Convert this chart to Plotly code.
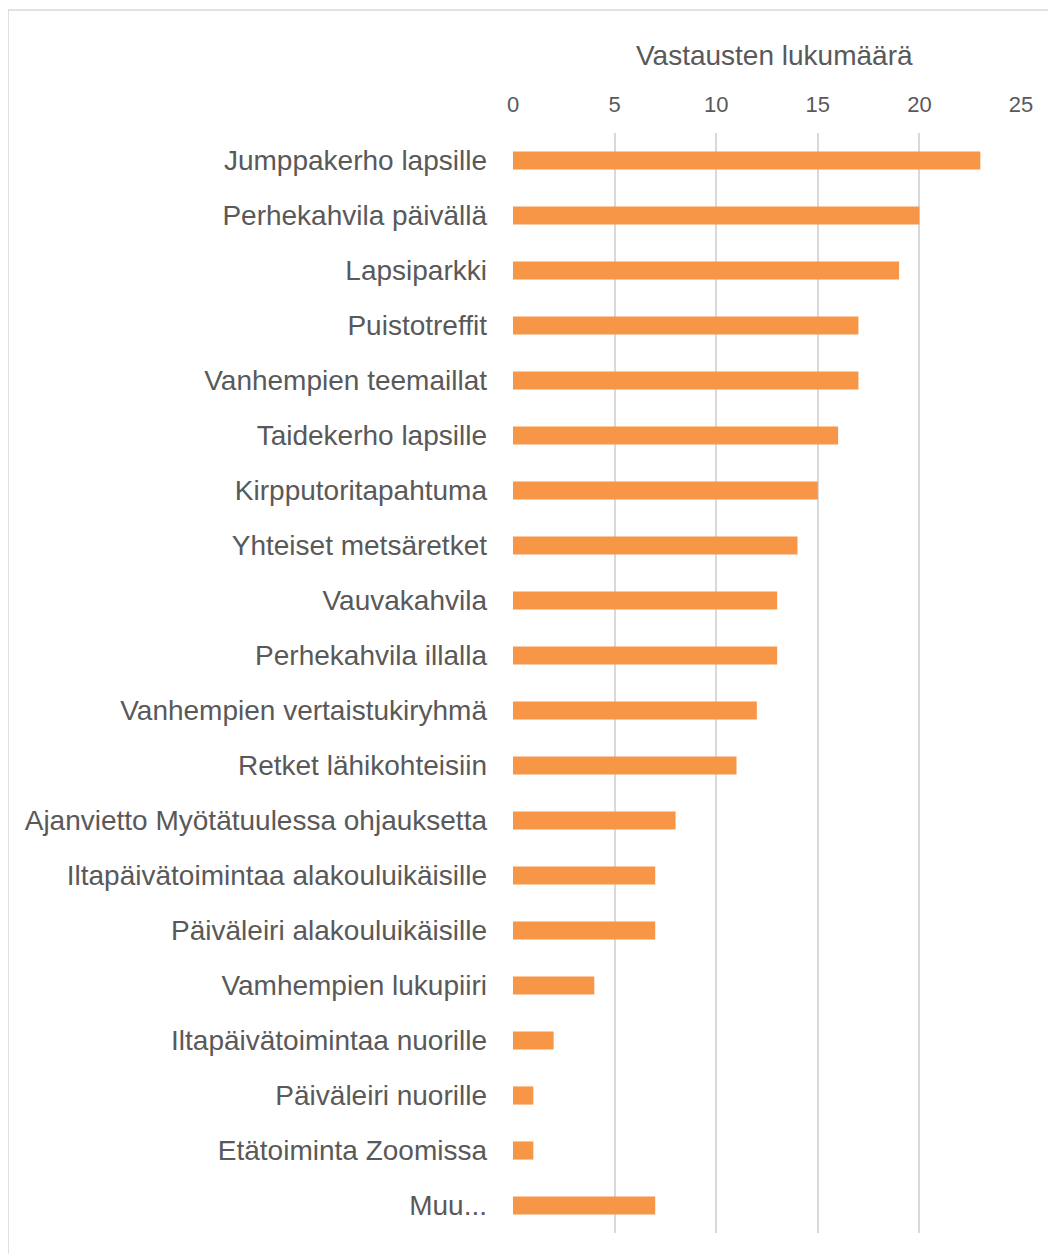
import plotly.graph_objects as go


CATEGORIES = [
    'Jumppakerho lapsille',
    'Perhekahvila päivällä',
    'Lapsiparkki',
    'Puistotreffit',
    'Vanhempien teemaillat',
    'Taidekerho lapsille',
    'Kirpputoritapahtuma',
    'Yhteiset metsäretket',
    'Vauvakahvila',
    'Perhekahvila illalla',
    'Vanhempien vertaistukiryhmä',
    'Retket lähikohteisiin',
    'Ajanvietto Myötätuulessa ohjauksetta',
    'Iltapäivätoimintaa alakouluikäisille',
    'Päiväleiri alakouluikäisille',
    'Vamhempien lukupiiri',
    'Iltapäivätoimintaa nuorille',
    'Päiväleiri nuorille',
    'Etätoiminta Zoomissa',
    'Muu...',
]
COUNTS = [23, 20, 19, 17, 17, 16, 15, 14, 13, 13, 12, 11, 8, 7, 7, 4, 2, 1, 1, 7]
X_TICKS = [0, 5, 10, 15, 20, 25]

FONT = 'Liberation Sans, Arial, sans-serif'
GREY = '#595959'


def createFigure():
    '''
    Horizontal bar chart of answer counts, axis on top
    '''
    fig = go.Figure()

    fig.add_trace(go.Bar(
        x=COUNTS, y=CATEGORIES, orientation='h',
        marker=dict(color='#F79646', line=dict(width=0)),
        width=0.33, hoverinfo='x+y'
    ))

    # page body has an 8px margin, so the figure is a bit smaller than the window
    fig.update_layout(
        width=1048, height=1246,
        margin=dict(l=505, r=35, t=125, b=21),
        plot_bgcolor='white', paper_bgcolor='white',
        showlegend=False,
        font=dict(family=FONT, color=GREY),
        xaxis=dict(
            side='top', range=[0, 25], tickvals=X_TICKS,
            showgrid=True, gridcolor='#D9D9D9', gridwidth=1.5,
            zeroline=False, showline=False,
            tickfont=dict(size=22, color=GREY), ticklabelstandoff=16,
        ),
        yaxis=dict(
            autorange='reversed', showgrid=False, zeroline=False,
            tickfont=dict(size=28, color=GREY), ticklabelstandoff=25,
        ),
        annotations=[dict(
            text='Vastausten lukumäärä', xref='paper', yref='paper',
            x=0.514, y=1.0709, xanchor='center', yanchor='middle',
            showarrow=False, font=dict(size=28, color=GREY)
        )],
        shapes=[dict(
            type='rect', xref='paper', yref='paper',
            x0=-0.994, x1=1.2, y0=-0.05, y1=1.1118,
            line=dict(color='#D9D9D9', width=1.5), layer='below'
        )]
    )

    return fig


fig = createFigure()
fig.write_html('out.html')
